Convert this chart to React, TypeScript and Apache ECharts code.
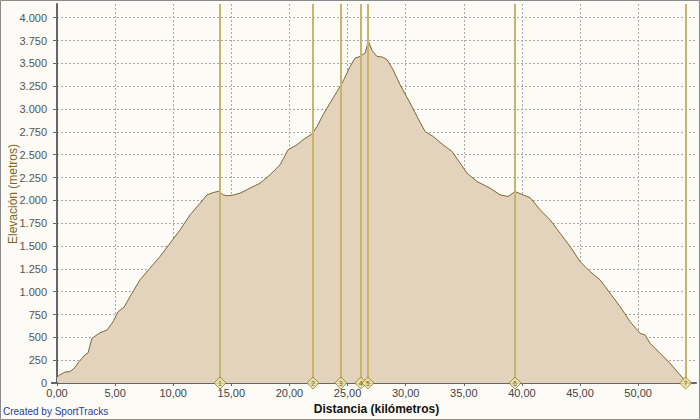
import React, { useEffect, useRef } from "react";
import * as echarts from "echarts";

const distanceKm = [0.0, 0.26, 0.69, 1.12, 1.55, 1.81, 2.15, 2.41, 2.67, 3.01, 3.7, 4.3, 4.82, 5.25, 5.77, 6.28, 7.14, 8.0, 8.86, 9.72, 10.59, 11.45, 12.31, 12.91, 13.43, 13.94, 14.29, 14.63, 15.06, 15.75, 16.61, 17.47, 18.33, 19.19, 19.88, 20.65, 21.17, 21.94, 22.38, 22.89, 23.49, 24.1, 24.61, 25.22, 25.65, 26.08, 26.51, 26.79, 27.11, 27.54, 27.97, 28.4, 28.92, 29.52, 30.38, 30.98, 31.67, 32.36, 33.22, 33.99, 34.68, 35.28, 36.14, 37.26, 38.12, 38.81, 39.41, 40.1, 40.71, 41.57, 42.43, 43.29, 44.15, 45.01, 45.87, 46.73, 47.59, 48.45, 49.31, 50.17, 50.6, 51.03, 51.89, 52.75, 53.61, 54.08];
const elevationM = [65, 90, 120, 125, 170, 220, 270, 307, 330, 490, 550, 580, 670, 780, 830, 946, 1129, 1257, 1384, 1531, 1677, 1841, 1969, 2060, 2085, 2100, 2060, 2050, 2055, 2078, 2134, 2188, 2280, 2389, 2554, 2608, 2663, 2726, 2810, 2937, 3066, 3193, 3302, 3467, 3558, 3576, 3613, 3740, 3640, 3575, 3570, 3540, 3430, 3266, 3066, 2918, 2754, 2700, 2608, 2535, 2408, 2298, 2206, 2134, 2060, 2042, 2096, 2060, 2030, 1896, 1786, 1640, 1494, 1330, 1220, 1129, 983, 836, 672, 545, 526, 435, 325, 216, 88, 20];

const markerKm = [14.03, 22.02, 24.42, 26.14, 26.75, 39.41, 54.08];
const markerLabels = ["1", "2", "3", "4", "5", "6", "7"];

const xAxisTitle = "Distancia (kilómetros)";
const yAxisTitle = "Elevación (metros)";
const creditText = "Created by SportTracks";

const fmtY = (v: number) => {
  const s = String(Math.round(v));
  return s.replace(/\B(?=(\d{3})+(?!\d))/g, ".");
};
const fmtX = (v: number) => v.toFixed(2).replace(".", ",");

export default function App() {
  const ref = useRef<HTMLDivElement>(null);
  useEffect(() => {
    document.body.style.margin = "0";
    const chart = echarts.init(ref.current!, null, { renderer: "svg" });
    const font = "'Liberation Sans', Arial, sans-serif";
    chart.setOption({
      animation: false,
      backgroundColor: "#fcfbf6",
      grid: { left: 57, right: 4, top: 4, bottom: 37, containLabel: false, outerBoundsMode: "none" },
      xAxis: {
        type: "value",
        min: 0,
        max: 54.98,
        interval: 5,
        name: xAxisTitle,
        nameLocation: "middle",
        nameGap: 19,
        nameTextStyle: { fontFamily: font, fontSize: 12, fontWeight: "bold", color: "#111" },
        axisLine: { show: true, onZero: false, lineStyle: { color: "#666", width: 2 } },
        axisTick: { show: true, length: 3, lineStyle: { color: "#666" } },
        axisLabel: {
          fontFamily: font,
          fontSize: 11,
          color: "#444",
          margin: 4,
          showMaxLabel: false,
          formatter: (v: number) => fmtX(v),
        },
        splitLine: {
          show: true,
          showMaxLine: false,
          showMinLine: true,
          lineStyle: { color: "#a8a8a8", type: [2, 2], width: 1 },
        },
      },
      yAxis: {
        type: "value",
        min: 0,
        max: 4150,
        interval: 250,
        offset: 5,
        axisLine: { show: true, lineStyle: { color: "#666", width: 2 } },
        axisTick: { show: true, length: 4, lineStyle: { color: "#666" } },
        axisLabel: {
          fontFamily: font,
          fontSize: 11,
          color: "#555",
          margin: 5,
          showMaxLabel: false,
          formatter: (v: number) => fmtY(v),
        },
        splitLine: {
          show: true,
          showMaxLine: false,
          showMinLine: false,
          lineStyle: { color: "#a8a8a8", type: [2, 2], width: 1 },
        },
      },
      series: [
        {
          type: "line",
          data: distanceKm.map((d, i) => [d, elevationM[i]]),
          showSymbol: false,
          smooth: false,
          lineStyle: { color: "#7a6836", width: 1 },
          areaStyle: { color: "#e3d3bc", opacity: 1 },
          markLine: {
            silent: true,
            symbol: ["none", "none"],
            label: { show: false },
            lineStyle: { color: "#c8b46a", width: 2, type: "solid" },
            data: markerKm.map((k) => ({ xAxis: k })),
          },
          z: 2,
        },
        {
          type: "scatter",
          clip: false,
          data: markerKm.map((k, i) => ({ value: [k, 0], name: markerLabels[i] })),
          symbol: "diamond",
          symbolSize: [12, 12],
          itemStyle: { color: "#f2e49c", borderColor: "#8a7a30", borderWidth: 1 },
          label: {
            show: true,
            position: "inside",
            formatter: (p: any) => p.name,
            fontSize: 7,
            fontFamily: font,
            color: "#333",
          },
          z: 5,
        },
      ],
      graphic: [
        {
          type: "line",
          shape: { x1: 51, y1: 383, x2: 58, y2: 383 },
          style: { stroke: "#666", lineWidth: 2 },
          z: 10,
        },
        {
          type: "text",
          x: 13,
          y: 194,
          rotation: Math.PI / 2,
          style: {
            text: yAxisTitle,
            fontFamily: font,
            fontSize: 12,
            fill: "#84671c",
            align: "center",
            verticalAlign: "middle",
          },
        },
        {
          type: "text",
          left: 3,
          top: 406,
          style: {
            text: creditText,
            fontFamily: font,
            fontSize: 10,
            fill: "#2b3b9c",
          },
        },
        {
          type: "rect",
          shape: { x: 0.5, y: 0.5, width: 699, height: 419 },
          style: { fill: "none", stroke: "#8a8a8a", lineWidth: 1 },
          z: 20,
        },
      ],
    });
    return () => chart.dispose();
  }, []);
  return <div ref={ref} style={{ width: 700, height: 420 }} />;
}
